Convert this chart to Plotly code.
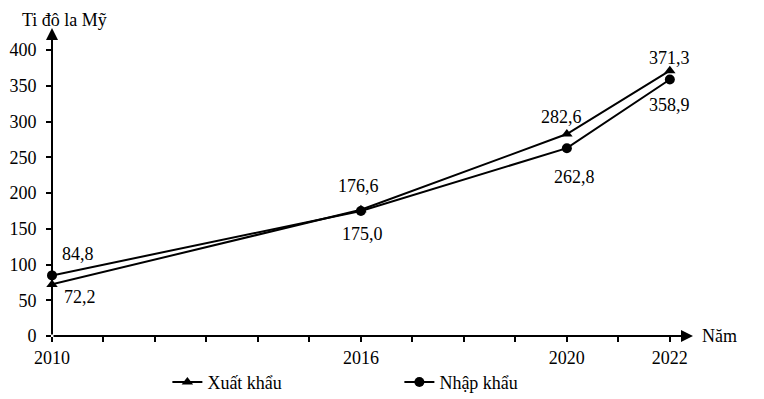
import plotly.graph_objects as go

years = [2010, 2016, 2020, 2022]
xuat_khau = [72.2, 176.6, 282.6, 371.3]
nhap_khau = [84.8, 175.0, 262.8, 358.9]
tick_years = list(range(2010, 2023))
tick_labels = ["2010", "", "", "", "", "", "2016", "", "", "", "2020", "", "2022"]
y_ticks = [0, 50, 100, 150, 200, 250, 300, 350, 400]

# label offsets in pixels (dx right, dy down)
xk_off = [(28, 13), (-2, -24), (-5, -17), (0, -13)]
nk_off = [(26, -21), (2, 23), (8, 29), (0, 25)]

def fmt(v):
    return f"{v:.1f}".replace(".", ",")

FONT = "Liberation Serif"
FS = 18

fig = go.Figure()
fig.add_trace(go.Scatter(
    x=years, y=xuat_khau, name="Xuất khẩu", mode="lines+markers",
    line=dict(color="black", width=2),
    marker=dict(symbol="triangle-up", size=10, color="black"),
    cliponaxis=False,
))
fig.add_trace(go.Scatter(
    x=years, y=nhap_khau, name="Nhập khẩu", mode="lines+markers",
    line=dict(color="black", width=2),
    marker=dict(symbol="circle", size=10, color="black"),
    cliponaxis=False,
))

for vals, offs in ((xuat_khau, xk_off), (nhap_khau, nk_off)):
    for yr, v, (dx, dy) in zip(years, vals, offs):
        fig.add_annotation(x=yr, y=v, xref="x", yref="y", text=fmt(v), showarrow=False,
                           xshift=dx, yshift=-dy, xanchor="center", yanchor="middle",
                           font=dict(size=FS, family=FONT, color="black"))

# axis arrows
fig.add_annotation(x=2022.45, y=0, ax=2010, ay=0, xref="x", yref="y", axref="x", ayref="y",
                   showarrow=True, arrowhead=2, arrowsize=1.2, arrowwidth=2, arrowcolor="black", text="")
fig.add_annotation(x=2010, y=431, ax=2010, ay=0, xref="x", yref="y", axref="x", ayref="y",
                   showarrow=True, arrowhead=2, arrowsize=1.2, arrowwidth=2, arrowcolor="black", text="")
fig.add_annotation(x=-32 / 641, y=1 + 20 / 308, xref="paper", yref="paper", text="Ti đô la Mỹ",
                   showarrow=False, xanchor="left", yanchor="top",
                   font=dict(size=FS, family=FONT, color="black"))
fig.add_annotation(x=1 + 7 / 641, y=0, xref="paper", yref="paper", text="Năm", showarrow=False,
                   xanchor="left", yanchor="middle", font=dict(size=FS, family=FONT, color="black"))

fig.update_layout(
    width=748, height=391,
    margin=dict(l=44, r=63, t=20, b=63, autoexpand=False),
    paper_bgcolor="white", plot_bgcolor="white",
    font=dict(family=FONT, size=FS, color="black"),
    showlegend=True,
    legend=dict(orientation="h", x=0.18, y=-0.09, xanchor="left", yanchor="top",
                font=dict(size=FS, family=FONT), itemwidth=30, entrywidth=187,
                bgcolor="rgba(0,0,0,0)"),
    xaxis=dict(range=[2010, 2022.45], tickmode="array", tickvals=tick_years, ticktext=tick_labels,
               ticks="outside", ticklen=5, tickwidth=2, tickcolor="black", showgrid=False,
               zeroline=False, showline=False, tickfont=dict(family=FONT, size=FS)),
    yaxis=dict(range=[0, 431], tickmode="array", tickvals=y_ticks,
               ticks="outside", ticklen=5, tickwidth=2, tickcolor="black", showgrid=False,
               zeroline=False, showline=False, tickfont=dict(family=FONT, size=FS),
               ticklabelstandoff=6),
)

fig.write_html("out.html")
